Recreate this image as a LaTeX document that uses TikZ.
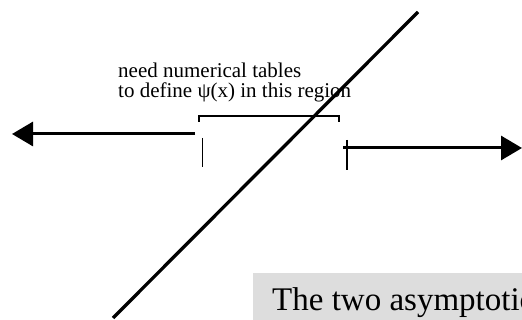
\documentclass[tikz,border=0pt]{standalone}
\usepackage{fontspec}
\setmainfont[Ligatures=NoCommon]{Liberation Serif}
\usetikzlibrary{arrows.meta}
\definecolor{boxgray}{HTML}{DDDDDD}
\begin{document}
\begin{tikzpicture}[x=1pt,y=-1pt,
  bigarrow/.style={line width=3pt,-{Triangle[length=21pt,width=24pt]}},
  tickline/.style={line width=1.4pt},
  bracketline/.style={line width=2pt},
  diagline/.style={line width=3.3pt},
  smalltext/.style={inner sep=0pt,anchor=base west,font=\fontsize{21}{20}\selectfont},
  bigtext/.style={inner sep=0pt,anchor=base west,font=\fontsize{33}{38}\selectfont}]
\useasboundingbox (0,0) rectangle (522,320);
% gray caption box
\fill[boxgray] (253,273) rectangle (522,320);
\begin{scope}
\clip (0,0) rectangle (522,320);
\node[bigtext] (caption) at (272,311) {The two asymptotic};
\end{scope}
% diagonal line
\coordinate (dl) at (113,318);
\coordinate (dr) at (418,12);
\draw[diagline] (dl) -- (dr);
% label
\node[smalltext] (lab1) at (118,78) {need numerical tables};
\node[smalltext] (lab2) at (118,98) {to define ψ(x) in this region};
% bracket
\coordinate (bl) at (199,122);
\coordinate (br) at (339,122);
\draw[bracketline] (bl) -- ++(0,-6) -| (br);
% ticks
\coordinate (t1a) at (202.5,138);
\coordinate (t1b) at (202.5,167);
\coordinate (t2a) at (347,140);
\coordinate (t2b) at (347,170);
\draw[tickline] (t1a) -- (t1b);
\draw[tickline] (t2a) -- (t2b);
% arrows
\coordinate (la) at (195,134);
\coordinate (lt) at (12,134);
\coordinate (ra) at (343,148);
\coordinate (rt) at (522,148);
\draw[bigarrow] (la) -- (lt);
\draw[bigarrow] (ra) -- (rt);
\end{tikzpicture}
\end{document}
